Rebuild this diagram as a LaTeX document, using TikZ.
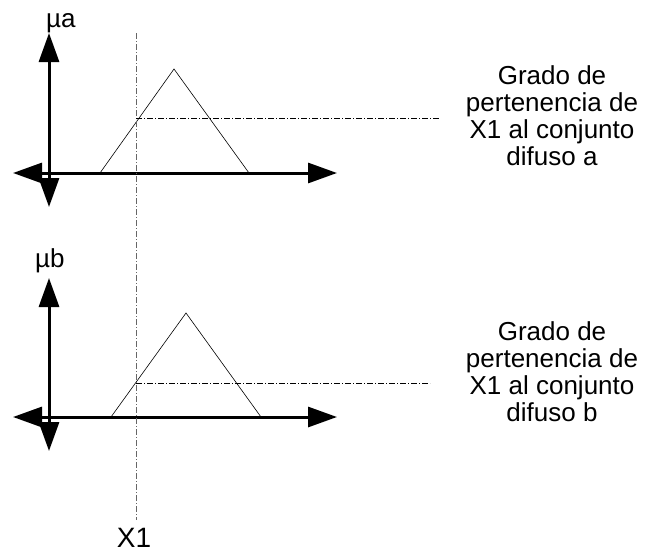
\documentclass[tikz,border=0pt]{standalone}
\usepackage{fontspec}
\setmainfont{Liberation Sans}
\usetikzlibrary{arrows.meta, positioning, calc}

\begin{document}
\begin{tikzpicture}[x=1pt, y=-1pt,
    axis/.style={line width=3pt, {Triangle[length=29pt, width=20pt]}-{Triangle[length=29pt, width=20pt]}},
    fuzzy/.style={line width=0.6pt},
    guide/.style={line width=0.6pt, dash pattern=on 6pt off 2pt on 1pt off 2pt},
    lbl/.style={inner sep=0pt, font=\fontsize{26}{28}\selectfont},
    info/.style={align=center, inner sep=0pt, font=\fontsize{26}{27}\selectfont}]
    \useasboundingbox (0,0) rectangle (645,552);
    % conjunto a
    \coordinate (ya1) at (49,207); \coordinate (ya2) at (49,33);
    \coordinate (xa1) at (13,173); \coordinate (xa2) at (337,173);
    \draw[axis] (ya1) -- (ya2);
    \draw[axis] (xa1) -- (xa2);
    \coordinate (ta1) at (100,173); \coordinate (ta2) at (174,69); \coordinate (ta3) at (249,173);
    \draw[fuzzy] (ta1) -- (ta2) -- (ta3);
    \node[lbl, anchor=base west] (mua) at (46,27) {µa};
    % conjunto b
    \coordinate (yb1) at (49,451); \coordinate (yb2) at (49,278);
    \coordinate (xb1) at (13,417); \coordinate (xb2) at (337,417);
    \draw[axis] (yb1) -- (yb2);
    \draw[axis] (xb1) -- (xb2);
    \coordinate (tb1) at (111,417); \coordinate (tb2) at (186,313); \coordinate (tb3) at (261,417);
    \draw[fuzzy] (tb1) -- (tb2) -- (tb3);
    \node[lbl, anchor=base west] (mub) at (35,267) {µb};
    % entrada X1
    \coordinate (xin1) at (136,33); \coordinate (xin2) at (136,520);
    \draw[guide, gray!80!black] (xin1) -- (xin2);
    \node[inner sep=0pt, font=\fontsize{28}{30}\selectfont, anchor=base] (xlbl) at (134,547) {X1};
    \coordinate (ga1) at (136,118); \coordinate (ga2) at (440,118);
    \draw[guide] (ga1) -- (ga2);
    \coordinate (gb1) at (136,383); \coordinate (gb2) at (430,383);
    \draw[guide] (gb1) -- (gb2);
    % grados de pertenencia
    \node[info] (infoa) at (552,116) {Grado de\\pertenencia de\\X1 al conjunto\\difuso a};
    \node[info] (infob) at (552,372) {Grado de\\pertenencia de\\X1 al conjunto\\difuso b};
\end{tikzpicture}
\end{document}
